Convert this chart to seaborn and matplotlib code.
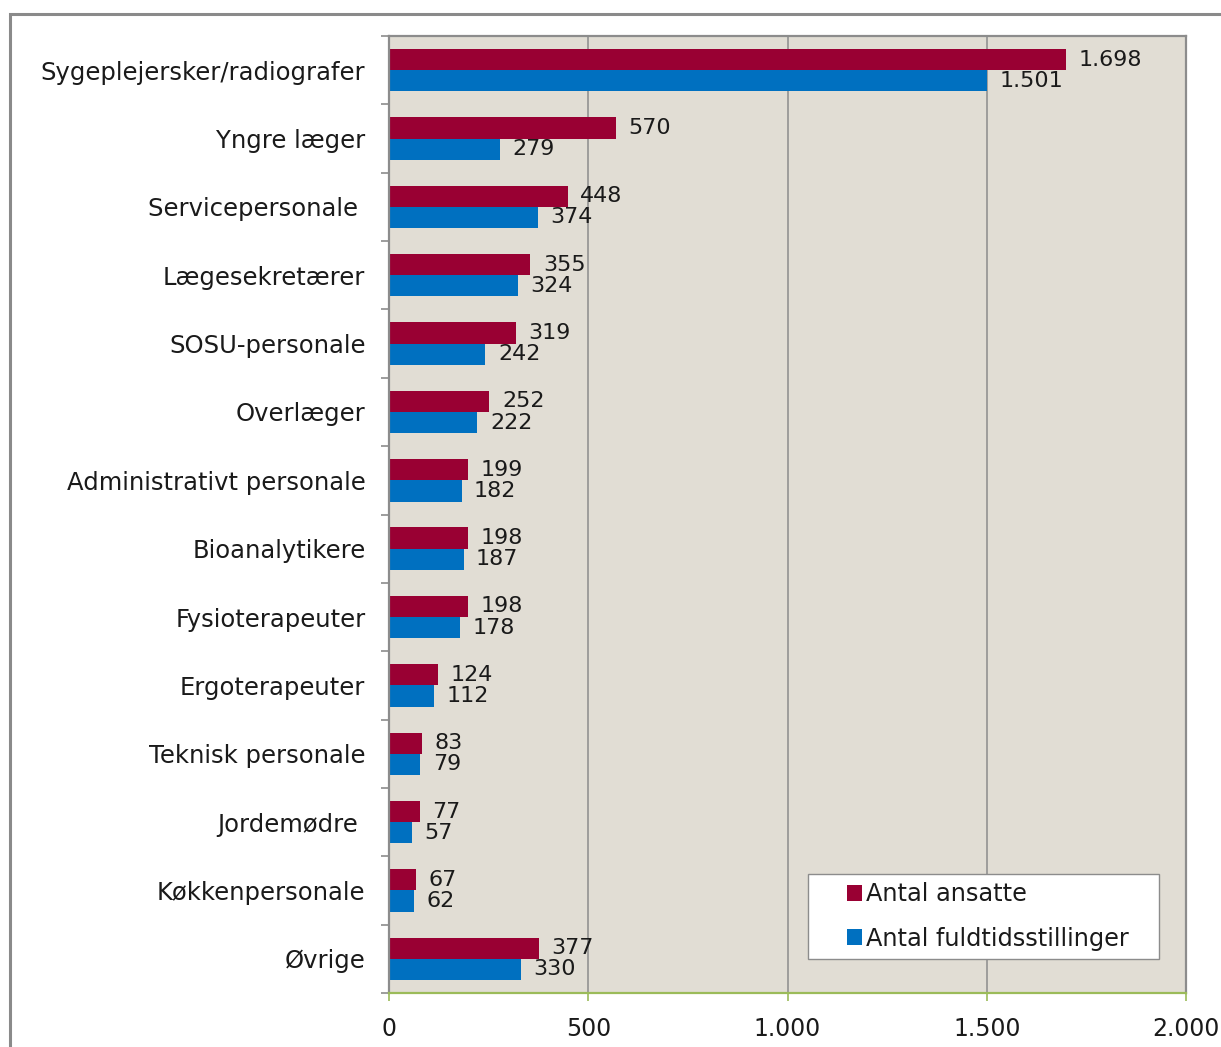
import matplotlib
matplotlib.use("Agg")
import matplotlib.pyplot as plt
import seaborn as sns
import pandas as pd
from matplotlib.patches import Rectangle, Patch
from matplotlib.ticker import FixedLocator

categories = ["Sygeplejersker/radiografer", "Yngre læger", "Servicepersonale ",
              "Lægesekretærer", "SOSU-personale", "Overlæger",
              "Administrativt personale", "Bioanalytikere", "Fysioterapeuter",
              "Ergoterapeuter", "Teknisk personale", "Jordemødre ",
              "Køkkenpersonale", "Øvrige"]
antal_ansatte = [1698, 570, 448, 355, 319, 252, 199, 198, 198, 124, 83, 77, 67, 377]
antal_fuldtid = [1501, 279, 374, 324, 242, 222, 182, 187, 178, 112, 79, 57, 62, 330]
series_names = ["Antal ansatte", "Antal fuldtidsstillinger"]
x_ticks = [0, 500, 1000, 1500, 2000]
x_ticklabels = ["0", "500", "1.000", "1.500", "2.000"]

colors = ["#990033", "#0070C0"]
bg = "#E1DDD4"
gray = "#8C8C8C"
green = "#9BBB59"
textc = "#1a1a1a"

df = pd.DataFrame({
    "Kategori": categories * 2,
    "Antal": antal_ansatte + antal_fuldtid,
    "Serie": [series_names[0]] * len(categories) + [series_names[1]] * len(categories),
})

sns.set_style("white")
plt.rcParams["font.family"] = ["DejaVu Sans"]

fig = plt.figure(figsize=(12.21, 10.47), dpi=100)
ax = fig.add_axes([389 / 1221, 1 - 993 / 1047, (1186 - 389) / 1221, (993 - 36) / 1047])

# outer frame
fig.patches.append(Rectangle((10 / 1221, -0.05), 1.2, 1 - 14 / 1047 + 0.05,
                             transform=fig.transFigure, fill=False,
                             edgecolor="#8A8A8A", linewidth=2.2, zorder=0))

sns.barplot(data=df, y="Kategori", x="Antal", hue="Serie", orient="h",
            palette=colors, width=0.62, saturation=1, ax=ax, legend=False,
            linewidth=0, order=categories, hue_order=series_names)

ax.set_facecolor(bg)
ax.set_xlim(0, 2000)
ax.set_ylim(len(categories) - 0.5, -0.5)
ax.set_xlabel("")
ax.set_ylabel("")

for x in x_ticks[1:-1]:
    ax.axvline(x, color=gray, linewidth=1.1, zorder=0.5)

for c in ax.containers:
    ax.bar_label(c, labels=[f"{int(round(v)):,}".replace(",", ".") for v in c.datavalues],
                 padding=9, fontsize=16, color=textc)

ax.set_xticks(x_ticks)
ax.set_xticklabels(x_ticklabels, fontsize=17, color=textc)
ax.tick_params(axis="x", direction="out", length=6, width=1.2, color=green,
               pad=11, bottom=True)

ax.set_yticks(range(len(categories)))
ax.set_yticklabels(categories, fontsize=17.5, color=textc)
ax.tick_params(axis="y", which="major", length=0, pad=17)
ax.yaxis.set_minor_locator(FixedLocator([i - 0.5 for i in range(len(categories) + 1)]))
ax.tick_params(axis="y", which="minor", direction="out", length=6, width=1.2,
               color=gray, left=True)

for s in ["top", "right", "left"]:
    ax.spines[s].set_color(gray)
    ax.spines[s].set_linewidth(1.6)
ax.spines["bottom"].set_color(green)
ax.spines["bottom"].set_linewidth(1.6)

# legend box (Excel style) drawn as a frame, legend entries placed inside
x0, x1 = (808 - 389) / 797, (1159 - 389) / 797
y0, y1 = (993 - 959) / 957, (993 - 874) / 957
ax.add_patch(Rectangle((x0, y0), x1 - x0, y1 - y0, transform=ax.transAxes,
                       facecolor="white", edgecolor=gray, linewidth=1.0, zorder=5))
handles = [Patch(facecolor=colors[0], edgecolor="none"),
           Patch(facecolor=colors[1], edgecolor="none")]
leg = ax.legend(handles, series_names, loc="center left",
                bbox_to_anchor=((847 - 389) / 797, (993 - 916.5) / 957),
                fontsize=17.3, frameon=False,
                handlelength=0.62, handleheight=0.62, handletextpad=0.15,
                borderpad=0, labelspacing=0.85, borderaxespad=0)
leg.set_zorder(6)
for t in leg.get_texts():
    t.set_color(textc)

fig.savefig("out.png", dpi=100, facecolor="white")
